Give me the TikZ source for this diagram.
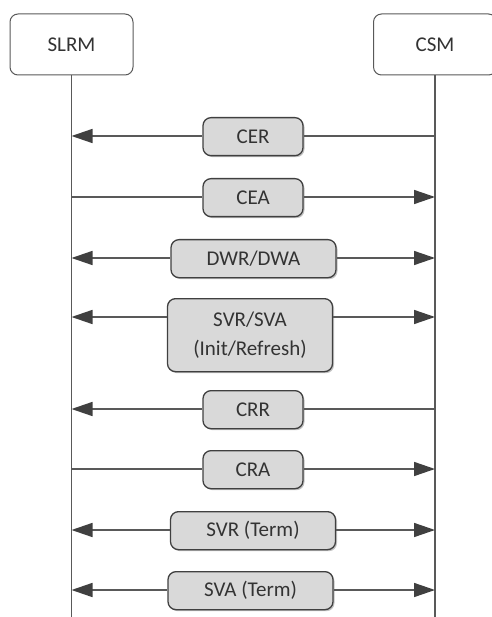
\documentclass[tikz,border=0pt]{standalone}
\usepackage{fontspec}
\setmainfont{Carlito}
\usepackage{tikz}
\usetikzlibrary{arrows.meta, positioning, shadows}
\definecolor{MSG}{HTML}{D9D9D9}
\definecolor{LNE}{HTML}{595959}
\definecolor{TIP}{HTML}{404040}
\definecolor{TXT}{HTML}{333333}
\tikzset{
  ACT/.style={% Style for the two actor boxes
      rectangle, rounded corners=8pt,
      line width=1pt,
      align=center,
      text=TXT,
      minimum width=123pt,
      minimum height=61pt,
      fill=white,
      draw=LNE,
  },
  MSG/.style={% Style for the message boxes
      rectangle, rounded corners=8pt,
      line width=1.3pt,
      anchor=north,
      align=center,
      text=TXT,
      inner ysep=4pt,
      fill=MSG,
      draw=TIP,
      drop shadow={shadow xshift=1.5pt, shadow yshift=-1.5pt, fill=black!40, opacity=0.6},
  },
  LIFE/.style={line width=1.5pt, draw=LNE},
  SEG/.style={line width=1.5pt, draw=LNE, >={Triangle[length=21pt, width=14pt, color=TIP]}},
}

\begin{document}
\begin{tikzpicture}[x=1pt, y=1pt, font=\fontsize{21}{29}\selectfont]
  \useasboundingbox (0,0) rectangle (491,-617);
  \node[ACT] (SLRM) at (71.5,-44.5) {SLRM};
  \node[ACT] (CSM) at (435,-44.5) {CSM}; % cut by the right border
  \coordinate (Bottom) at (0,-617);
  \draw[LIFE] (SLRM.south) -- (SLRM.south |- Bottom);
  \draw[LIFE] (CSM.south) -- (CSM.south |- Bottom);
  \foreach \id/\y/\x/\w/\h/\txt/\la/\ra in {% id/arrow height/box centre/box width/box height/label/left tip/right tip
      1/136/253/100/38/CER/<-/-,
      2/197/253/100/38/CEA/-/->,
      3/258/253.5/165/38/{DWR/DWA}/<-/->,
      4/317/250/165/73/{SVR/SVA\\(Init/Refresh)}/<-/->,
      5/409/253/100/38/CRR/<-/-,
      6/469/253/100/38/CRA/-/->,
      7/530/253/165/38/{SVR (Term)}/<-/->,
      8/590/250.5/165/38/{SVA (Term)}/<-/->
  }{%
      \coordinate (s\id) at (SLRM.south |- 0,-\y); % point on the SLRM line
      \coordinate (c\id) at (CSM.south |- 0,-\y);  % point on the CSM line
      \node[MSG, minimum width=\w pt, minimum height=\h pt] (m\id) at (\x,-\y+19) {\txt};
      \draw[SEG, \la] (s\id) -- (s\id -| m\id.west);
      \draw[SEG, \ra] (s\id -| m\id.east) -- (c\id);
  }
\end{tikzpicture}
\end{document}
